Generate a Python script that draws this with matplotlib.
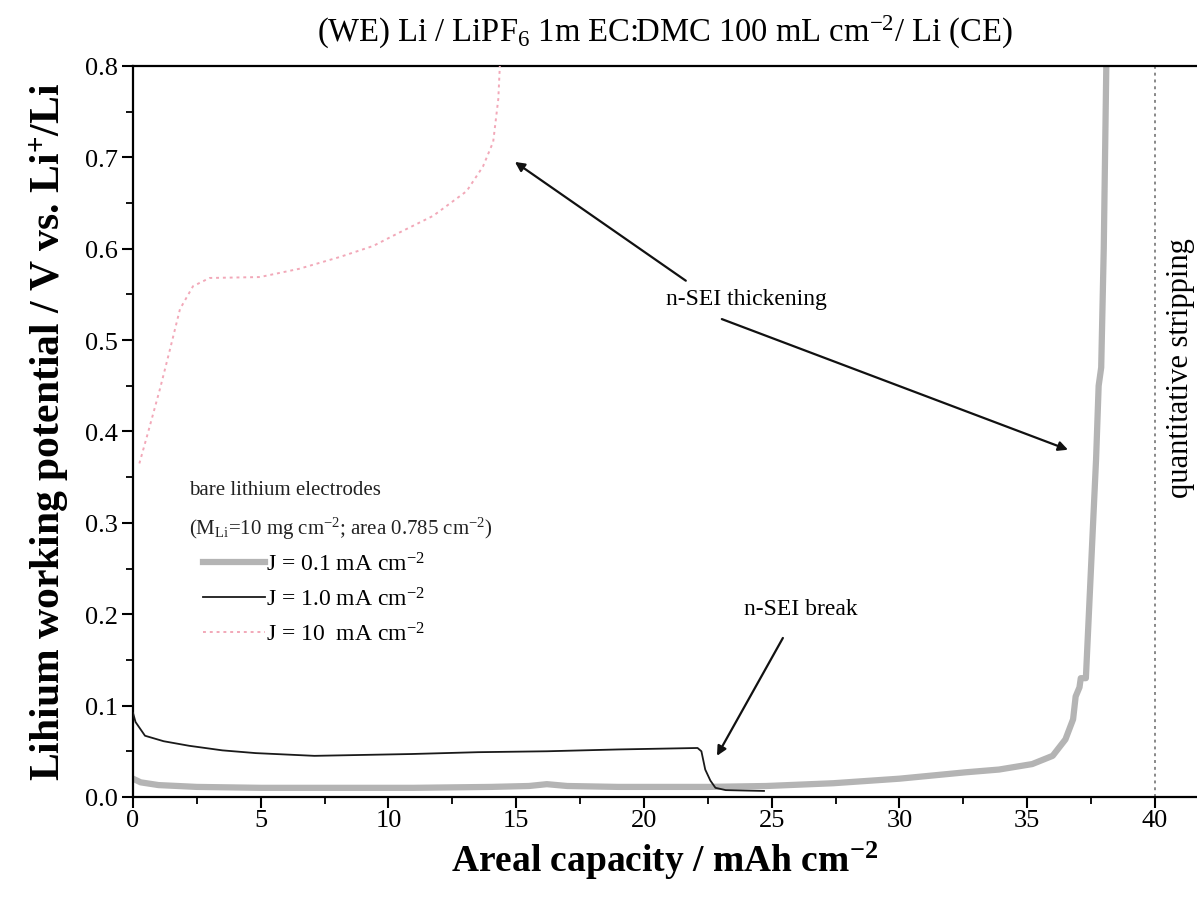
import numpy as np
import matplotlib
matplotlib.use("Agg")
import matplotlib.pyplot as plt

plt.rcParams['font.family'] = ['Liberation Serif', 'DejaVu Serif']
plt.rcParams['mathtext.fontset'] = 'custom'
plt.rcParams['mathtext.rm'] = 'Liberation Serif'
plt.rcParams['mathtext.it'] = 'Liberation Serif:italic'
plt.rcParams['mathtext.bf'] = 'Liberation Serif:bold'

# J = 0.1 mA cm-2 (thick grey)
cap_01 = [0.0, 0.3, 1.0, 2.5, 5.0, 8.0, 11.0, 14.0, 15.5, 16.2, 17.0, 19.0, 22.0, 22.5,
          24.8, 27.4, 30.0, 32.6, 33.9, 35.2, 36.0, 36.5, 36.8, 36.9, 37.05, 37.1, 37.3,
          37.5, 37.7, 37.8, 37.9, 38.0, 38.1]
pot_01 = [0.020, 0.016, 0.013, 0.011, 0.010, 0.010, 0.010, 0.011, 0.012, 0.014, 0.012,
          0.011, 0.011, 0.011, 0.012, 0.015, 0.020, 0.027, 0.030, 0.036, 0.045, 0.063,
          0.085, 0.110, 0.120, 0.130, 0.130, 0.25, 0.37, 0.45, 0.47, 0.60, 0.80]

# J = 1.0 mA cm-2 (black)
cap_1 = [0.0, 0.1, 0.47, 1.2, 2.2, 3.5, 4.8, 7.1, 9.0, 10.9, 13.5, 16.2, 19.0, 22.1,
         22.25, 22.4, 22.6, 22.8, 23.2, 24.0, 24.7]
pot_1 = [0.092, 0.082, 0.067, 0.061, 0.056, 0.051, 0.048, 0.045, 0.046, 0.047, 0.049,
         0.050, 0.052, 0.0536, 0.050, 0.030, 0.018, 0.010, 0.0075, 0.007, 0.0066]

# J = 10 mA cm-2 (pink dotted)
cap_10 = [0.25, 0.6, 1.06, 1.45, 1.84, 2.35, 3.0, 4.97, 6.5, 8.1, 9.4, 10.45, 11.75,
          13.06, 13.7, 14.1, 14.3, 14.36]
pot_10 = [0.365, 0.40, 0.447, 0.49, 0.534, 0.559, 0.568, 0.569, 0.578, 0.591, 0.603,
          0.618, 0.636, 0.663, 0.69, 0.717, 0.764, 0.80]

fig = plt.figure(figsize=(11.97, 9.04), dpi=100)
ax = fig.add_axes([0.1111, 0.1173, 0.8889, 0.8086])

ax.plot(cap_01, pot_01, color='#b4b4b4', lw=4.5, solid_joinstyle='round',
        label='J = 0.1 mA cm$^{-2}$', zorder=2)
ax.plot(cap_1, pot_1, color='#1a1a1a', lw=1.3, label='J = 1.0 mA cm$^{-2}$', zorder=3)
ax.plot(cap_10, pot_10, color='#f2a8b8', lw=1.4, ls=(0, (1.5, 2)),
        label='J = 10  mA cm$^{-2}$', zorder=3)

ax.axvline(40, color='#888888', lw=1.4, ls=(0, (1.5, 2)), zorder=1)

ax.set_xlim(0, 41.65)
ax.set_ylim(0, 0.8)
ax.set_xticks(np.arange(0, 41, 5))
ax.set_xticks(np.arange(0, 41, 2.5), minor=True)
ax.set_yticks(np.arange(0, 0.81, 0.1))
ax.set_yticks(np.arange(0, 0.81, 0.05), minor=True)
ax.yaxis.set_major_formatter(matplotlib.ticker.FormatStrFormatter('%.1f'))
ax.tick_params(which='major', direction='out', length=8, width=1.5, labelsize=19, pad=3)
ax.tick_params(axis='x', which='major', pad=1)
ax.tick_params(which='minor', direction='out', length=5, width=1.3)
ax.spines['right'].set_visible(False)
for s in ['left', 'bottom', 'top']:
    ax.spines[s].set_linewidth(1.6)

ax.set_xlabel('Areal capacity / mAh cm$^{\\mathbf{-2}}$', fontsize=27, fontweight='bold', labelpad=5)
ax.set_ylabel('Lihium working potential / V vs. Li$^{\\mathbf{+}}$/Li', fontsize=30,
              fontweight='bold', labelpad=10)
ax.set_title('(WE) Li / LiPF$_{6}$ 1m EC:DMC 100 mL cm$^{-2}$/ Li (CE)', fontsize=23.5, pad=18)

ax.text(2.2, 0.336, 'bare lithium electrodes', fontsize=15, va='center', color='#222222')
ax.text(2.2, 0.295, '(M$_{\\mathrm{Li}}$=10 mg cm$^{-2}$; area 0.785 cm$^{-2}$)', fontsize=15,
        va='center', color='#222222')
leg = ax.legend(loc='upper left', bbox_to_anchor=(0.046, 0.364), frameon=False, fontsize=17,
                handlelength=2.6, handletextpad=0.05, labelspacing=0.5)

ax.text(41.0, 0.47, 'quantitative stripping', rotation=90, fontsize=22, ha='center', va='center')

arrow = dict(arrowstyle='-|>', color='#111111', lw=1.6, mutation_scale=14, shrinkA=0, shrinkB=0)
ax.text(24.0, 0.545, 'n-SEI thickening', fontsize=17, ha='center', va='center')
ax.annotate('', xy=(14.95, 0.695), xytext=(21.64, 0.565), arrowprops=arrow)
ax.annotate('', xy=(36.6, 0.380), xytext=(23.05, 0.523), arrowprops=arrow)
ax.text(26.15, 0.206, 'n-SEI break', fontsize=17, ha='center', va='center')
ax.annotate('', xy=(22.86, 0.045), xytext=(25.44, 0.174), arrowprops=arrow)

fig.savefig('out.png', dpi=100)
